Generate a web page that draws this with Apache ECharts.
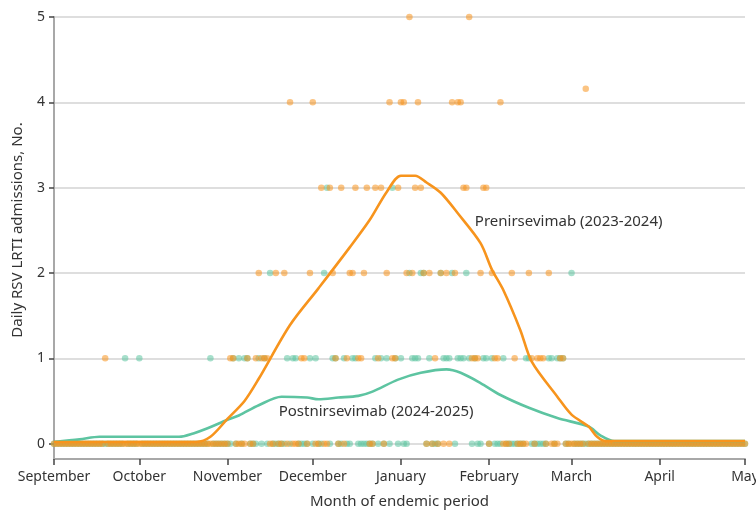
<!DOCTYPE html>
<html><head><meta charset="utf-8">
<script src="https://cdn.jsdelivr.net/npm/echarts@6/dist/echarts.min.js"></script>
<style>html,body{margin:0;padding:0;background:#fff}#c{width:756px;height:512px}</style>
</head><body><div id="c"></div>
<script>
// ---- axis data ----
const monthLabels = ['September','October','November','December','January','February','March','April','May'];
const monthStartDays = [0, 30, 61, 91, 122, 153, 182, 213, 243];
const yTicks = [0, 1, 2, 3, 4, 5];
const lastDay = 243;

// ---- smoothed curves (day since Sep 1, value) ----
const preCurveDays = [0, 50, 55, 61, 67, 72, 83, 93, 104, 111, 117, 122, 127, 131, 136, 142, 150, 154, 158, 164, 168, 177, 182, 188, 191, 194, 243];
const preCurveVals = [0.02, 0.02, 0.08, 0.29, 0.5, 0.76, 1.39, 1.82, 2.3, 2.62, 2.95, 3.14, 3.14, 3.06, 2.94, 2.7, 2.35, 2.04, 1.8, 1.33, 0.96, 0.55, 0.34, 0.2, 0.08, 0.03, 0.03];
const postCurveDays = [0, 9, 16, 30, 44, 49, 54, 61, 65, 72, 80, 89, 93, 100, 107, 112, 121, 129, 138, 143, 150, 157, 167, 177, 188, 192, 197, 243];
const postCurveVals = [0.02, 0.05, 0.08, 0.08, 0.08, 0.12, 0.18, 0.28, 0.33, 0.45, 0.55, 0.54, 0.52, 0.54, 0.56, 0.61, 0.75, 0.83, 0.87, 0.83, 0.71, 0.57, 0.42, 0.3, 0.2, 0.1, 0.03, 0.03];

// ---- daily admissions: days (since Sep 1) with 1..5 admissions; other days 0 ----
const preDays1 = [18, 62, 63, 68, 71, 73, 74, 75, 87, 88, 99, 103, 107, 108, 114, 119, 120, 134, 147, 148, 149, 155, 156, 162, 168, 170, 171, 172, 178, 179];
const preDays2 = [72, 78, 81, 90, 98, 104, 105, 109, 117, 124, 126, 130, 132, 136, 138, 141, 150, 154, 161, 167, 174];
const preDays3 = [94, 97, 101, 106, 110, 113, 115, 121, 127, 129, 144, 145, 151, 152];
const preDays4 = [83, 91, 118, 122, 123, 128, 140, 142, 143, 157];
const preDays5 = [125, 146];
const preExtraDays = [187];
const preExtraVals = [4.16];

const postDays1 = [25, 30, 55, 63, 65, 67, 68, 72, 74, 82, 84, 85, 90, 92, 98, 99, 102, 105, 106, 113, 115, 117, 120, 122, 126, 127, 128, 132, 137, 138, 139, 142, 143, 144, 146, 148, 151, 152, 154, 158, 166, 167, 174, 175, 177, 178, 179];
const postDays2 = [76, 95, 125, 129, 130, 136, 140, 145, 182];
const postDays3 = [96, 119];

const preName = 'Prenirsevimab (2023-2024)';
const postName = 'Postnirsevimab (2024-2025)';

// ---- build scatter points ----
function buildPoints(levels, extraDays, extraVals) {
  const pts = [];
  const used = new Set();
  levels.forEach(function (days, i) {
    days.forEach(function (d) { pts.push([d, i + 1]); used.add(d); });
  });
  extraDays.forEach(function (d, i) { pts.push([d, extraVals[i]]); used.add(d); });
  for (let d = 0; d <= lastDay; d++) if (!used.has(d)) pts.push([d, 0]);
  return pts;
}
const prePoints = buildPoints([preDays1, preDays2, preDays3, preDays4, preDays5], preExtraDays, preExtraVals);
const postPoints = buildPoints([postDays1, postDays2, postDays3], [], []);
const preCurve = preCurveDays.map(function (d, i) { return [d, preCurveVals[i]]; });
const postCurve = postCurveDays.map(function (d, i) { return [d, postCurveVals[i]]; });

const ORANGE = '#F7941D';
const TEAL = '#5DC4A1';
const TXT = '#333333';
const FONT = 'Noto Sans';

const chart = echarts.init(document.getElementById('c'), null, { renderer: 'canvas' });
chart.setOption({
  animation: false,
  backgroundColor: '#ffffff',
  textStyle: { fontFamily: FONT },
  grid: { left: 54, right: 11, top: 17, bottom: 53, outerBoundsMode: 'none', containLabel: false },
  xAxis: {
    type: 'value', min: 0, max: lastDay,
    name: 'Month of endemic period', nameLocation: 'middle', nameGap: 35,
    nameTextStyle: { fontSize: 15, color: TXT, fontFamily: FONT },
    axisLine: { show: true, onZero: false, lineStyle: { color: '#a8a8a8', width: 2 } },
    axisTick: { show: true, length: 6, customValues: monthStartDays, lineStyle: { color: '#444', width: 1.5 } },
    axisLabel: {
      customValues: monthStartDays, margin: 11, fontSize: 14, color: TXT, fontFamily: FONT,
      formatter: function (v) { return monthLabels[monthStartDays.indexOf(v)]; }
    },
    splitLine: { show: false }
  },
  yAxis: {
    type: 'value', min: -0.18, max: 5,
    axisLine: { show: true, lineStyle: { color: '#a8a8a8', width: 2 } },
    axisTick: { show: true, length: 5, customValues: yTicks, lineStyle: { color: '#444', width: 1.5 } },
    axisLabel: { customValues: yTicks, margin: 9, fontSize: 14, color: TXT, fontFamily: FONT },
    splitLine: { show: true, lineStyle: { color: '#dedede', width: 2 } }
  },
  graphic: [{
    type: 'text', x: 18, y: 230, rotation: Math.PI / 2,
    style: { text: 'Daily RSV LRTI admissions, No.', fill: TXT, font: '15px "Noto Sans"', align: 'center', verticalAlign: 'middle' }
  }],
  series: [
    { type: 'scatter', name: postName + ' daily', data: postPoints, symbolSize: 6.5,
      itemStyle: { color: TEAL, opacity: 0.55 }, z: 2, silent: true },
    { type: 'scatter', name: preName + ' daily', data: prePoints, symbolSize: 6.5,
      itemStyle: { color: ORANGE, opacity: 0.55 }, z: 3, silent: true },
    { type: 'line', name: postName, data: postCurve, smooth: 0.3, showSymbol: false,
      lineStyle: { color: TEAL, width: 2.6 }, z: 4,
      markPoint: { symbol: 'circle', symbolSize: 0, itemStyle: { color: 'rgba(0,0,0,0)' },
        label: { show: true, position: 'right', distance: 0, color: TXT, fontSize: 15, fontFamily: FONT, formatter: postName },
        data: [{ coord: [79, 0.37] }] } },
    { type: 'line', name: preName, data: preCurve, smooth: 0.3, showSymbol: false,
      lineStyle: { color: ORANGE, width: 2.6 }, z: 5,
      markPoint: { symbol: 'circle', symbolSize: 0, itemStyle: { color: 'rgba(0,0,0,0)' },
        label: { show: true, position: 'right', distance: 0, color: TXT, fontSize: 15, fontFamily: FONT, formatter: preName },
        data: [{ coord: [148, 2.6] }] } }
  ]
});
</script>
</body></html>
